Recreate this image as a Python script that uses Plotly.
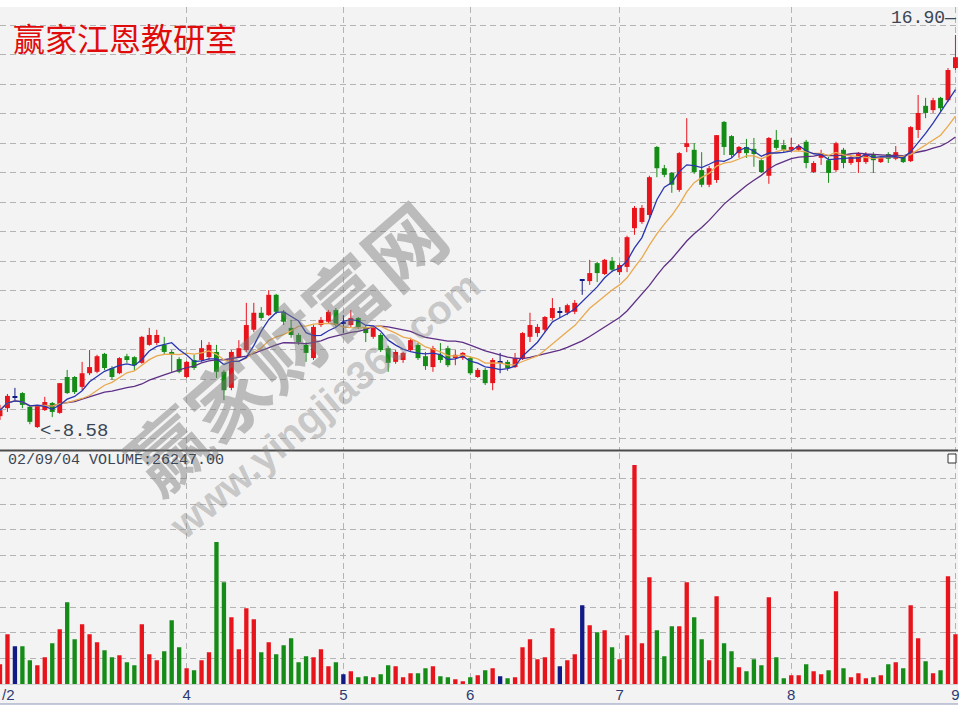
import numpy as np
import pandas as pd
import plotly.graph_objects as go

# ---------------- data ----------------
open_ = [8.83, 9.00, 9.24, 9.32, 9.03, 8.60, 8.96, 9.11, 8.90, 9.66,
         9.66, 9.45, 9.74, 9.77, 10.15, 9.85, 9.74, 10.10, 10.08, 9.96,
         10.34, 10.38, 10.34, 10.19, 10.04, 9.66, 10.02, 10.02, 10.08, 10.19,
         9.77, 9.43, 10.08, 10.23, 10.66, 11.02, 10.97, 11.40, 11.04, 10.70,
         10.55, 10.34, 10.06, 10.76, 10.83, 11.08, 10.80, 10.76, 10.91, 10.72,
         10.51, 10.55, 10.27, 9.98, 10.02, 10.23, 10.34, 10.10, 9.87, 10.13,
         10.27, 10.06, 10.06, 10.06, 9.66, 9.81, 9.53, 9.98, 9.98, 9.87,
         10.06, 10.51, 10.59, 10.66, 10.91, 11.04, 11.02, 11.04, 11.71, 11.69,
         12.07, 11.84, 12.12, 11.88, 11.99, 12.81, 12.94, 13.09, 14.53, 14.08,
         13.98, 13.62, 14.53, 14.47, 14.04, 13.73, 13.83, 15.06, 14.76, 14.40,
         14.53, 14.49, 14.25, 13.92, 14.68, 14.57, 14.47, 14.47, 14.64, 14.00,
         14.30, 14.25, 14.04, 14.47, 14.19, 14.21, 14.21, 14.38, 14.21, 14.38,
         14.28, 14.32, 14.23, 14.89, 15.40, 15.31, 15.57, 15.52, 16.20]
high = [9.07, 9.30, 9.43, 9.34, 9.07, 9.07, 9.24, 9.13, 9.53, 9.81,
        9.68, 9.98, 10.23, 10.13, 10.17, 9.89, 10.08, 10.15, 10.10, 10.53,
        10.70, 10.66, 10.51, 10.23, 10.08, 10.00, 10.13, 10.44, 10.40, 10.34,
        9.81, 10.23, 10.44, 11.23, 11.23, 11.14, 11.50, 11.42, 11.08, 10.87,
        10.59, 10.40, 10.76, 10.93, 11.08, 11.12, 10.97, 11.08, 10.93, 10.76,
        10.74, 10.59, 10.32, 10.23, 10.19, 10.49, 10.38, 10.19, 10.32, 10.38,
        10.32, 10.23, 10.19, 10.10, 9.85, 9.85, 10.06, 10.17, 10.02, 10.17,
        10.61, 11.02, 10.78, 10.95, 11.33, 11.14, 11.21, 11.29, 11.73, 12.14,
        12.10, 12.16, 12.20, 12.07, 12.65, 13.28, 13.30, 13.92, 14.55, 14.15,
        14.00, 14.42, 15.14, 14.61, 14.42, 14.13, 14.78, 15.08, 14.78, 14.55,
        14.70, 14.72, 14.30, 14.74, 14.89, 14.68, 14.72, 14.59, 14.68, 14.23,
        14.47, 14.32, 14.64, 14.51, 14.36, 14.42, 14.42, 14.42, 14.32, 14.42,
        14.55, 14.36, 14.97, 15.63, 15.57, 15.57, 15.59, 16.20, 16.90]
low = [8.75, 8.92, 9.13, 9.00, 8.66, 8.58, 8.94, 8.81, 8.88, 9.30,
       9.30, 9.38, 9.70, 9.74, 9.81, 9.60, 9.72, 9.96, 9.81, 9.94,
       10.32, 10.34, 10.13, 9.77, 9.74, 9.64, 9.81, 9.98, 10.02, 9.64,
       9.17, 9.38, 10.06, 10.19, 10.61, 10.87, 10.95, 10.99, 10.76, 10.49,
       10.34, 9.98, 10.02, 10.72, 10.80, 10.72, 10.59, 10.72, 10.68, 10.40,
       10.47, 10.19, 9.77, 9.94, 9.96, 10.19, 10.02, 9.81, 9.77, 9.96,
       9.87, 9.91, 10.02, 9.70, 9.64, 9.49, 9.38, 9.74, 9.79, 9.85,
       10.02, 10.40, 10.51, 10.61, 10.87, 10.91, 10.97, 10.99, 11.40, 11.61,
       11.67, 11.82, 11.88, 11.82, 11.88, 12.67, 12.90, 13.03, 13.89, 13.89,
       13.56, 13.58, 14.42, 13.96, 13.68, 13.68, 13.77, 14.36, 14.30, 14.30,
       14.30, 14.11, 13.98, 13.75, 14.47, 14.42, 14.42, 14.44, 14.08, 13.98,
       14.15, 13.77, 14.00, 14.08, 14.15, 13.98, 14.17, 13.98, 14.19, 14.19,
       14.25, 14.19, 14.21, 14.72, 15.14, 15.25, 15.27, 15.48, 16.16]
close = [8.96, 9.26, 9.24, 9.07, 8.71, 9.05, 9.13, 8.92, 9.53, 9.32,
         9.34, 9.74, 9.87, 10.10, 9.85, 9.66, 10.06, 10.02, 9.91, 10.51,
         10.55, 10.55, 10.19, 10.13, 9.77, 9.98, 9.85, 10.27, 10.34, 9.77,
         9.38, 10.19, 10.27, 10.76, 11.02, 10.91, 11.40, 11.04, 10.83, 10.55,
         10.40, 10.17, 10.72, 10.87, 11.04, 10.76, 10.80, 10.91, 10.72, 10.59,
         10.70, 10.23, 9.96, 10.19, 10.17, 10.44, 10.06, 9.89, 10.27, 10.02,
         9.91, 10.13, 10.17, 9.74, 9.81, 9.53, 10.02, 9.98, 9.85, 10.06,
         10.59, 10.76, 10.72, 10.93, 11.12, 11.04, 11.18, 11.23, 11.71, 11.86,
         11.86, 12.14, 11.93, 12.03, 12.62, 13.24, 13.24, 13.89, 14.08, 13.94,
         13.73, 14.40, 14.61, 14.00, 13.73, 14.08, 14.78, 14.53, 14.36, 14.53,
         14.40, 14.38, 14.00, 14.72, 14.51, 14.47, 14.53, 14.55, 14.19, 14.19,
         14.40, 13.98, 14.61, 14.19, 14.32, 14.38, 14.38, 14.25, 14.30, 14.28,
         14.42, 14.21, 14.95, 15.25, 15.25, 15.52, 15.35, 16.16, 16.43]
volume = [10500, 26250, 19950, 19950, 12600, 9975, 14175, 21525, 28875, 43050,
          23625, 31500, 26250, 22050, 17850, 14175, 15225, 11550, 9975, 31500,
          15750, 12600, 17325, 33600, 19425, 8400, 7350, 12600, 16800, 74550,
          53550, 35175, 18375, 39900, 34125, 16800, 22050, 15750, 20475, 24150,
          11550, 14700, 14175, 18375, 9450, 11550, 5250, 6825, 3675, 4200,
          3675, 5250, 9975, 9450, 3675, 5775, 5775, 8400, 9450, 4200,
          3675, 2625, 1575, 3675, 4725, 7350, 8400, 4200, 3150, 3675,
          19425, 23625, 13125, 14175, 29400, 9450, 12600, 15750, 41475, 30975,
          27300, 28350, 19425, 13125, 25725, 114975, 21525, 56175, 28350, 14700,
          30450, 30450, 53550, 35175, 23625, 12600, 46200, 21525, 17325, 8925,
          6825, 13125, 9975, 45675, 14175, 3150, 4725, 4725, 10500, 6825,
          5250, 7350, 48825, 8400, 3675, 5775, 3150, 3675, 4725, 10500,
          11550, 8400, 41475, 24150, 12075, 5775, 7350, 56700, 26247]

month_pos = [25, 46, 63, 83, 106, 128]
month_labels = ["4", "5", "6", "7", "8", "9"]
first_label = "/2"
cursor_date = "02/09/04"
title_text = "赢家江恩教研室"
watermark_cn = "赢家财富网"
watermark_url = "www.yingjia360.com"

# ---------------- derived ----------------
o = np.array(open_)
h = np.array(high)
l = np.array(low)
c = np.array(close)
n = len(c)
idx = list(range(n))

UP, DOWN, FLAT = "#e8141c", "#158c17", "#121a86"
colors = [UP if cc > oo else (DOWN if cc < oo else FLAT) for oo, cc in zip(o, c)]

ma5 = pd.Series(c).rolling(5, min_periods=1).mean()
ma10 = pd.Series(c).rolling(10, min_periods=1).mean()
ma20 = pd.Series(c).rolling(20, min_periods=1).mean()

min_body = 0.022
body_h = np.maximum(np.abs(c - o), min_body)
body_base = np.where(np.abs(c - o) < min_body, (o + c) / 2 - min_body / 2, np.minimum(o, c))

fig = go.Figure()

# wicks
for col in (UP, DOWN, FLAT):
    xs, ys = [], []
    for i in idx:
        if colors[i] == col:
            xs += [i, i, None]
            ys += [l[i], h[i], None]
    fig.add_trace(go.Scatter(x=xs, y=ys, mode="lines", line=dict(color=col, width=1),
                             xaxis="x", yaxis="y", hoverinfo="skip", showlegend=False))

# bodies
fig.add_trace(go.Bar(x=idx, y=body_h, base=body_base, width=0.66,
                     marker=dict(color=colors, line=dict(width=0)),
                     xaxis="x", yaxis="y", hoverinfo="skip", showlegend=False))

# moving averages
for ma, col in ((ma20, "#5e2f86"), (ma10, "#e9a94e"), (ma5, "#2a36b0")):
    fig.add_trace(go.Scatter(x=idx, y=ma, mode="lines", line=dict(color=col, width=1.3),
                             xaxis="x", yaxis="y", hoverinfo="skip", showlegend=False))

# volume
fig.add_trace(go.Bar(x=idx, y=volume, width=0.58,
                     marker=dict(color=colors, line=dict(width=0)),
                     xaxis="x2", yaxis="y2", hoverinfo="skip", showlegend=False))

W, H = 960, 720
def py(px):
    return 1 - px / H

grid = dict(showgrid=True, gridcolor="#b4b4b4", gridwidth=1, griddash="6px,4px",
            zeroline=False, showline=False)

imax = int(np.argmax(h))
imin = int(np.argmin(l))
mono = "Liberation Mono, DejaVu Sans Mono, monospace"

fig.update_layout(
    width=W, height=H,
    margin=dict(l=0, r=0, t=0, b=0),
    paper_bgcolor="white",
    plot_bgcolor="rgba(0,0,0,0)",
    barmode="overlay",
    showlegend=False,
    hovermode=False,
    xaxis=dict(domain=[0, 1], range=[0, n - 0.66], anchor="y",
               tickvals=[0] + month_pos, showticklabels=False, ticks="", **grid),
    yaxis=dict(domain=[py(450), py(7)], range=[8.1145, 17.493], anchor="x",
               tick0=17.112, dtick=0.6254, showticklabels=False, ticks="", **grid),
    xaxis2=dict(domain=[0, 1], range=[0, n - 0.66], anchor="y2", matches="x",
                tickvals=[0] + month_pos, ticktext=[""] + month_labels, ticks="",
                ticklabeloverflow="allow",
                tickfont=dict(family="Liberation Sans, Arial", size=15, color="#2d3a72"),
                **grid),
    yaxis2=dict(domain=[py(684.3), py(452.5)], range=[0, 121500], anchor="x2",
                tick0=0, dtick=13500, showticklabels=False, ticks="", **grid),
    shapes=[
        dict(type="rect", xref="paper", yref="paper", x0=0, x1=1, y0=py(704), y1=py(7),
             fillcolor="#f3f3f3", line=dict(width=0), layer="below"),
        dict(type="line", xref="paper", yref="paper", x0=0, x1=1, y0=py(684.5), y1=py(684.5),
             line=dict(color="#d2d2d2", width=1)),
        dict(type="line", xref="paper", yref="paper", x0=0, x1=1, y0=py(450.5), y1=py(450.5),
             line=dict(color="#4c4c4c", width=2)),
        dict(type="line", xref="paper", yref="paper", x0=0, x1=1, y0=py(704), y1=py(704),
             line=dict(color="#8a96b8", width=1)),
        dict(type="rect", xref="paper", yref="paper", x0=950 / W, x1=958 / W,
             y0=py(463), y1=py(454), fillcolor="white", line=dict(color="#333", width=1)),
    ],
    annotations=[
        dict(text=watermark_cn, xref="paper", yref="paper", x=285 / W, y=py(345),
             xanchor="center", yanchor="middle", showarrow=False, textangle=-41,
             font=dict(family="Noto Sans CJK SC", size=78, weight=700,
                       color="rgba(120,120,120,0.45)")),
        dict(text=watermark_url, xref="paper", yref="paper", x=325 / W, y=py(405),
             xanchor="center", yanchor="middle", showarrow=False, textangle=-40,
             font=dict(family="Liberation Sans, Arial", size=40, weight=700,
                       color="rgba(130,130,130,0.4)")),
        dict(text=title_text, xref="paper", yref="paper", x=11 / W, y=py(37),
             xanchor="left", yanchor="middle", showarrow=False,
             font=dict(family="Noto Sans CJK SC", size=32, color="#e00c0c")),
        dict(text=f"{h[imax]:.2f}—", xref="x", yref="y", x=imax, y=h[imax],
             xanchor="right", yanchor="middle", xshift=3, yshift=17, showarrow=False,
             font=dict(family=mono, size=18, color="#3a4656")),
        dict(text=f"<-{l[imin]:.2f}", xref="x", yref="y", x=imin, y=l[imin],
             xanchor="left", yanchor="middle", xshift=1, yshift=-3, showarrow=False,
             font=dict(family=mono, size=19, color="#3a4656")),
        dict(text=f"{cursor_date} VOLUME:{volume[-1]:.2f}", xref="paper", yref="paper",
             x=6 / W, y=py(461), xanchor="left", yanchor="middle", showarrow=False,
             font=dict(family=mono, size=15, color="#3a4656")),
        dict(text=first_label, xref="paper", yref="paper", x=0, y=py(694),
             xanchor="left", yanchor="middle", showarrow=False,
             font=dict(family="Liberation Sans, Arial", size=15, color="#2d3a72")),
    ],
)

fig.write_html("out.html", config={"displayModeBar": False},
               post_script="document.body.style.margin='0';")
